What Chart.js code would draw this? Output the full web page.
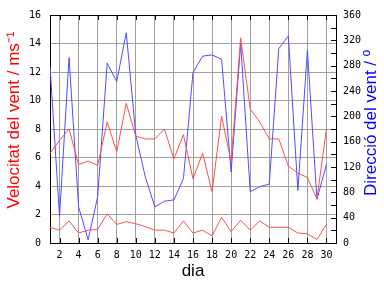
<!DOCTYPE html>
<html>
<head>
<meta charset="utf-8">
<script src="https://cdn.jsdelivr.net/npm/chart.js@4/dist/chart.umd.min.js"></script>
<style>
  html, body { margin: 0; padding: 0; background: #fff; }
  #wrap { width: 384px; height: 288px; }
</style>
</head>
<body>
<div id="wrap"><canvas id="chart-wind"></canvas></div>
<script>
// dies del mes
var days = [1,2,3,4,5,6,7,8,9,10,11,12,13,14,15,16,17,18,19,20,21,22,23,24,25,26,27,28,29,30];
// velocitat maxima (m/s)
var speedMax = [6.3,7.2,8.0,5.5,5.75,5.45,8.5,6.4,9.8,7.5,7.3,7.3,8.0,5.9,7.6,4.5,6.3,3.6,8.9,5.7,14.4,9.4,8.5,7.3,7.3,5.4,4.9,4.6,3.1,8.0];
// velocitat mitjana (m/s)
var speedMean = [1.1,0.9,1.55,0.7,0.9,0.95,2.05,1.3,1.5,1.35,1.15,0.9,0.9,0.7,1.55,0.7,0.9,0.5,1.8,0.8,1.6,0.9,1.55,1.1,1.1,1.1,0.7,0.65,0.25,1.3];
// direccio (graus)
var direction = [280,42,293,57,5,73,284,255,332,170,104,57,66,68,102,269,295,297,290,112,315,81,89,93,307,327,83,304,69,124];

var xTicks = [2,4,6,8,10,12,14,16,18,20,22,24,26,28,30];

var leftTitle = 'Velocitat del vent / ms⁻¹';
var rightTitle = 'Direcció del vent / º';

function toPoints(values) {
    return days.map(function(d, i) { return {x: d, y: values[i]}; });
}

// marques interiors del marc (dalt, baix i dreta)
var innerTicks = {
    id: 'innerTicks',
    afterDraw: function(chart) {
        var ctx = chart.ctx;
        var a = chart.chartArea;
        var x = chart.scales.x;
        var y1 = chart.scales.y1;
        ctx.save();
        ctx.strokeStyle = '#000';
        ctx.lineWidth = 1;
        ctx.beginPath();
        xTicks.forEach(function(v) {
            var px = Math.round(x.getPixelForValue(v)) + 0.5;
            ctx.moveTo(px, a.top); ctx.lineTo(px, a.top + 5);
            ctx.moveTo(px, a.bottom); ctx.lineTo(px, a.bottom - 5);
        });
        for (var v = 20; v < 360; v += 20) {
            var py = Math.round(y1.getPixelForValue(v)) + 0.5;
            ctx.moveTo(a.right, py); ctx.lineTo(a.right - 5, py);
        }
        ctx.moveTo(a.left, Math.round(a.top) + 0.5);
        ctx.lineTo(a.right, Math.round(a.top) + 0.5);
        ctx.stroke();
        ctx.restore();
    }
};

// titols verticals, tots dos de baix a dalt
var sideTitles = {
    id: 'sideTitles',
    afterDraw: function(chart) {
        var ctx = chart.ctx;
        ctx.save();
        ctx.font = '17px "Liberation Sans"';
        ctx.textAlign = 'center';
        ctx.textBaseline = 'middle';

        ctx.save();
        ctx.translate(14, 120);
        ctx.rotate(-Math.PI / 2);
        ctx.fillStyle = '#ff0000';
        ctx.fillText(leftTitle, 0, 0);
        ctx.restore();

        ctx.save();
        ctx.translate(371, 123);
        ctx.rotate(-Math.PI / 2);
        ctx.fillStyle = '#0000ff';
        ctx.fillText(rightTitle, 0, 0);
        ctx.restore();

        ctx.restore();
    }
};

var tickFont = {family: 'DejaVu Sans Mono', size: 10};
var red = '#ff4d4d';
var blue = '#4d4dff';

new Chart(document.getElementById('chart-wind').getContext('2d'), {
    type: 'line',
    data: {
        datasets: [{
            label: 'max',
            data: toPoints(speedMax),
            borderColor: red,
            borderWidth: 1,
            pointRadius: 0,
            tension: 0,
            yAxisID: 'y'
        },
        {
            label: 'mitjana',
            data: toPoints(speedMean),
            borderColor: red,
            borderWidth: 1,
            pointRadius: 0,
            tension: 0,
            yAxisID: 'y'
        },
        {
            label: 'direccio',
            data: toPoints(direction),
            borderColor: blue,
            borderWidth: 1,
            pointRadius: 0,
            tension: 0,
            yAxisID: 'y1'
        }]
    },
    plugins: [innerTicks, sideTitles],
    options: {
        responsive: true,
        maintainAspectRatio: false,
        animation: false,
        layout: { padding: { top: 14, left: 0, right: 0, bottom: 0 } },
        plugins: {
            legend: { display: false },
            tooltip: { enabled: false }
        },
        scales: {
            x: {
                type: 'linear',
                min: 1,
                max: 31,
                afterBuildTicks: function(axis) {
                    axis.ticks = xTicks.map(function(v) { return {value: v}; });
                },
                afterFit: function(axis) { axis.height = 45; },
                grid: { color: '#a0a0a0', drawTicks: false },
                border: { color: '#000' },
                ticks: { color: '#000', font: tickFont, padding: 6, maxRotation: 0, autoSkip: false },
                title: {
                    display: true,
                    text: 'dia',
                    color: '#000',
                    font: {family: 'Liberation Sans', size: 17},
                    padding: {top: 0, bottom: 6}
                }
            },
            y: {
                position: 'left',
                min: 0,
                max: 16,
                afterFit: function(axis) { axis.width = 50; },
                grid: { color: '#a0a0a0', drawTicks: false },
                border: { color: '#000' },
                ticks: { stepSize: 2, color: '#000', font: tickFont, padding: 9 }
            },
            y1: {
                position: 'right',
                min: 0,
                max: 360,
                afterFit: function(axis) { axis.width = 48; },
                grid: { drawOnChartArea: false, drawTicks: false },
                border: { color: '#000' },
                ticks: { stepSize: 20, color: '#000', font: tickFont, padding: 7 }
            }
        }
    }
});
</script>
</body>
</html>
